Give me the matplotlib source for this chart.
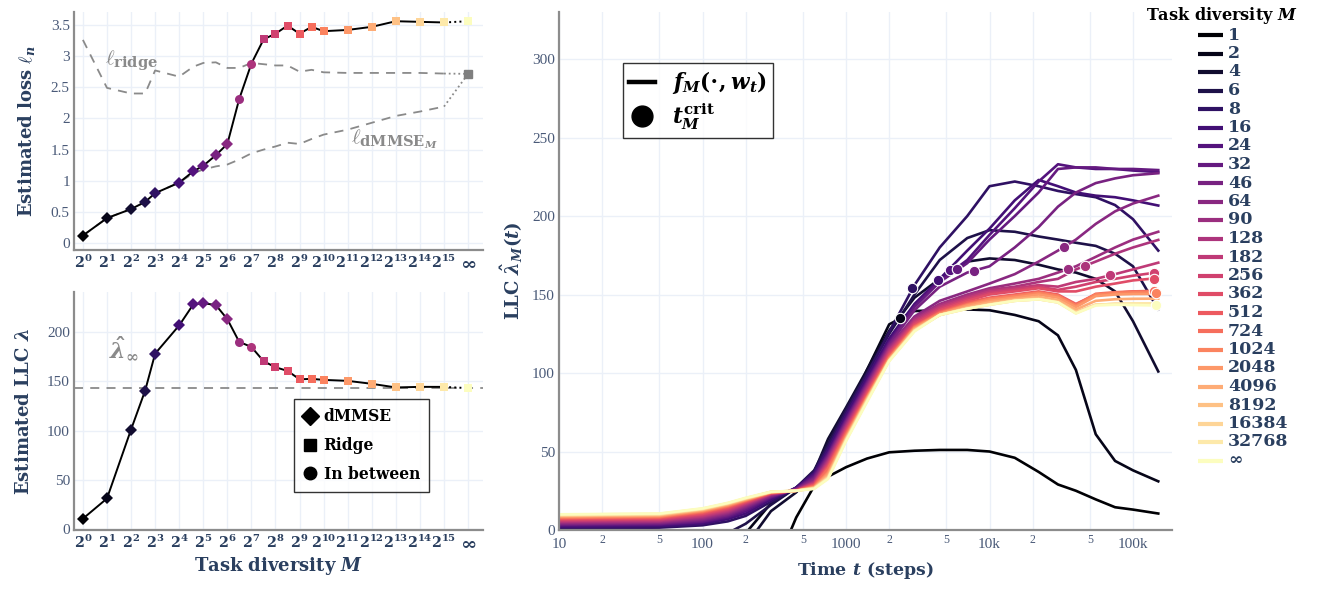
import numpy as np
import matplotlib
matplotlib.use("Agg")
import matplotlib.pyplot as plt
from matplotlib.lines import Line2D
from matplotlib import ticker

plt.rcParams['font.family'] = ['DejaVu Serif']
plt.rcParams['mathtext.fontset'] = 'custom'
plt.rcParams['mathtext.rm'] = 'DejaVu Serif:bold'
plt.rcParams['mathtext.it'] = 'DejaVu Serif:italic:bold'
plt.rcParams['mathtext.bf'] = 'DejaVu Serif:bold'

INK = '#2a3f5f'
TICK_INK = '#4a5a78'
GRID = '#ebf0f8'
SPINE = '#8c8c8c'
GREY = '#8a8a8a'
TICKFONT = 'Liberation Serif'

# task diversities (last entry is M = infinity)
M_finite = [1, 2, 4, 6, 8, 16, 24, 32, 46, 64, 90, 128, 182, 256, 362, 512, 724,
            1024, 2048, 4096, 8192, 16384, 32768]
M_labels = [str(m) for m in M_finite] + ['∞']
# which solution each model is closest to: D = dMMSE, o = in between, s = ridge
M_kind = ['D'] * 10 + ['o'] * 2 + ['s'] * 12

# estimated loss per model
loss = [0.12, 0.40, 0.545, 0.66, 0.80, 0.97, 1.15, 1.24, 1.41, 1.59, 2.31, 2.88,
        3.27, 3.36, 3.49, 3.36, 3.47, 3.40, 3.42, 3.47, 3.56, 3.55, 3.54, 3.56]
ridge_loss = [3.26, 2.49, 2.40, 2.40, 2.77, 2.67, 2.83, 2.89, 2.90, 2.81, 2.81, 2.89,
              2.87, 2.85, 2.85, 2.75, 2.78, 2.74, 2.73, 2.73, 2.73, 2.73, 2.72]
dmmse_loss = [0.12, 0.40, 0.545, 0.66, 0.80, 0.97, 1.12, 1.18, 1.23, 1.26, 1.34, 1.44,
              1.50, 1.55, 1.61, 1.59, 1.67, 1.74, 1.82, 1.93, 2.04, 2.11, 2.19]
ridge_loss_inf = 2.715

# estimated LLC per model
llc = [10.5, 31, 101, 140.5, 178, 206.7, 228, 229.3, 227.3, 213, 190, 184.8,
       170.3, 164.2, 160.5, 152, 152.4, 151.4, 150.4, 147.4, 143.7, 144.3, 144.3, 143]
llc_inf = 143.3

# LLC over training, sampled at these steps
steps = [10, 50, 100, 150, 200, 300, 450, 600, 750, 1000, 1400, 2000, 3000, 4500,
         7000, 10000, 15000, 22000, 30000, 40000, 55000, 75000, 100000, 150000]
llc_curves = [
    [-40, -40, -40, -40, -40, -30, 8, 28, 34, 40, 45.5, 49.5, 50.5, 51, 51, 50, 46, 37, 29, 25, 19.5, 14.5, 13, 10.5],
    [-40, -40, -40, -40, -2, 17, 27, 36, 48, 72, 102, 131, 139.5, 140, 140.5, 140, 137, 133, 124, 102, 61, 44, 38, 31],
    [-40, -40, -40, -40, -10, 12, 24, 37, 58, 78, 102, 127, 148, 160, 171, 173, 172, 169, 166, 164, 160, 152, 133, 101],
    [-8, -7, -5, -2, 4, 16, 27, 38, 55, 77, 100, 125, 150, 172, 186, 191, 190, 187, 185, 183, 181, 176, 168, 140.5],
    [1.2, 1.5, 3, 5.5, 9, 18, 27, 37, 53, 75, 99, 126, 156, 180, 200, 219, 222, 219, 216, 214, 212, 207, 198, 178],
    [2, 2.5, 4, 7, 10.5, 19.5, 27, 36, 51, 73, 97, 122, 144, 160, 178, 192, 210, 223, 219, 215, 213, 212, 210, 206.7],
    [2.8, 3.3, 5, 8, 12, 20.5, 26.5, 35, 49, 71, 95, 120, 143, 159, 172, 188, 205, 222, 233, 231, 230, 230, 229, 228],
    [3.3, 3.8, 5.5, 8.7, 13, 21, 26.3, 34, 48, 70, 94, 119, 142, 158, 170, 185, 200, 215, 230, 231, 231, 230, 230, 229.3],
    [3.8, 4.3, 6.3, 9.5, 14, 21.5, 26, 33, 47, 69, 93, 118, 140, 155, 164, 168, 180, 193, 206, 215, 221, 224, 226, 227.3],
    [4.3, 4.8, 7, 10.3, 14.8, 22, 25.8, 32, 46, 68, 92, 117, 136, 146, 152, 157, 163, 171, 178, 185, 195, 203, 208, 213],
    [4.8, 5.3, 7.7, 11, 15.5, 22.5, 25.6, 31, 45, 67, 91, 116, 135, 144, 150, 154, 157, 160, 164, 168, 174, 180, 185, 190],
    [5.3, 5.8, 8.4, 11.7, 16.2, 22.8, 25.4, 30.5, 44, 66, 90, 115, 134, 143, 149, 153, 155, 158, 160, 166, 171, 176, 180, 184.8],
    [5.8, 6.3, 9, 12.4, 16.8, 23, 25.3, 30, 43, 65, 89, 114, 133, 142, 148, 152, 154, 156, 155, 158, 160, 163, 166, 170.3],
    [6.3, 6.8, 9.7, 13.1, 17.3, 23.2, 25.2, 29.5, 42, 64, 88, 113, 132, 141, 147, 151, 153, 155, 153, 155, 158, 160, 162, 164.2],
    [6.8, 7.3, 10.3, 13.8, 17.8, 23.4, 25.1, 29, 41, 63, 87, 112, 131, 140, 146, 150, 152, 154, 152, 152, 155, 157, 159, 160.5],
    [7.3, 7.8, 11, 14.5, 18.3, 23.6, 25, 28.5, 40, 62, 86, 111, 130, 139, 145, 148, 150, 152, 150, 144, 150, 151, 152, 152],
    [7.7, 8.2, 11.5, 15, 18.7, 23.8, 25, 28, 39, 61, 85, 110, 129.5, 138.5, 144, 147.5, 149.5, 151.5, 149.5, 143.5, 150.5, 151.5, 152, 152.4],
    [8.1, 8.6, 12, 15.5, 19, 23.9, 25, 27.5, 37, 60, 84.5, 109.5, 129, 138, 143.5, 147, 149, 151, 149, 143, 150, 151, 151.3, 151.4],
    [8.5, 9, 12.4, 15.9, 19.3, 24, 25, 27.2, 36, 59, 84, 109, 128.5, 137.5, 143, 146, 148, 150, 148, 142, 149, 150, 150.3, 150.4],
    [8.9, 9.4, 12.8, 16.3, 19.6, 24.1, 25, 27, 35, 58.5, 83.5, 108.5, 128, 137, 142, 145, 147, 148.5, 146.5, 140.5, 146, 147, 147.3, 147.4],
    [9.2, 9.7, 13.1, 16.6, 19.9, 24.2, 25, 26.8, 34, 58, 83, 108, 127.5, 137, 141.5, 144, 146.5, 147.5, 145.5, 139, 143.5, 144, 143.8, 143.7],
    [9.5, 10, 13.4, 16.9, 20.1, 24.3, 25, 26.6, 33.5, 57.5, 82.5, 108, 127, 137, 141, 143.5, 146, 147, 145, 138.5, 143.5, 144, 144.2, 144.3],
    [9.8, 10.3, 13.6, 17.1, 20.3, 24.3, 25, 26.4, 33, 57, 82, 108, 127, 137, 141, 143.5, 146, 147, 145, 138, 143.5, 144, 144.3, 144.3],
    [10, 10.5, 13.8, 17.3, 20.5, 24.4, 25, 26.2, 32.5, 56.5, 81.5, 107.5, 126.5, 137, 141, 143.5, 146, 147, 145, 138, 143, 143.5, 143.3, 143],
]

# critical times t_M^crit and the LLC there
crit_M = ['2', '8', '16', '24', '32', '46', '64', '90', '128', '182', '256', '362', '724', '1024', '∞']
crit_t = [2370, 2900, 4400, 5300, 5900, 7800, 33000, 35500, 46000, 69000, 140000, 140000, 140000, 145000, 145000]
crit_llc = [135, 154, 159.5, 165.5, 166, 165.3, 180, 166, 168.5, 162.3, 163.7, 160.2, 152.2, 151.3, 143.1]

colors = plt.cm.magma(np.linspace(0, 1, len(M_labels)))
xpos = list(np.log2(M_finite)) + [16.0]

W, H = 1321, 590
fig = plt.figure(figsize=(W / 100, H / 100), dpi=100)


def px_axes(x0, y0, x1, y1):
    return fig.add_axes([x0 / W, 1 - y1 / H, (x1 - x0) / W, (y1 - y0) / H])


def style(ax):
    for s in ['top', 'right']:
        ax.spines[s].set_visible(False)
    for s in ['left', 'bottom']:
        ax.spines[s].set_color(SPINE)
        ax.spines[s].set_linewidth(1.6)
    ax.grid(True, color=GRID, lw=1.0)
    ax.set_axisbelow(True)
    ax.tick_params(length=0, colors=INK)


def task_axis(ax):
    ax.set_xlim(-0.37, 16.62)
    ax.set_xticks(range(17))
    ax.set_xticklabels([r'$2^{%d}$' % k for k in range(16)] + [r'$\infty$'],
                       fontsize=10.3, color=INK)
    ax.get_xticklabels()[-1].set_fontsize(14)
    ax.tick_params(axis='x', pad=3)
    ax.tick_params(axis='y', pad=3, labelcolor=TICK_INK)
    for lab in ax.get_yticklabels():
        lab.set_fontfamily(TICKFONT)
        lab.set_fontsize(11)


def draw_markers(ax, vals):
    for x, v, k, c in zip(xpos, vals, M_kind, colors):
        ms = 6.5 if k != 's' else 6.2
        ax.plot([x], [v], marker=k, color=c, ms=ms, mec=c, mew=0, ls='none', zorder=5)


# ---- top left: loss ----
ax1 = px_axes(74, 12, 483, 250)
style(ax1)
ax1.set_ylim(-0.112, 3.708)
ax1.set_yticks([0, 0.5, 1, 1.5, 2, 2.5, 3, 3.5])
ax1.set_yticklabels(['0', '0.5', '1', '1.5', '2', '2.5', '3', '3.5'])
task_axis(ax1)
dash = dict(color=GREY, lw=1.3, dashes=(5, 4))
ax1.plot(xpos[:-1], ridge_loss, **dash)
ax1.plot(xpos[:-1], dmmse_loss, **dash)
ax1.plot([xpos[-2], xpos[-1]], [ridge_loss[-1], ridge_loss_inf], color=GREY, lw=1.3, ls=':')
ax1.plot([xpos[-2], xpos[-1]], [dmmse_loss[-1], ridge_loss_inf], color=GREY, lw=1.3, ls=':')
ax1.plot([xpos[-1]], [ridge_loss_inf], marker='s', color='#7f7f7f', ms=6.2, zorder=5)
ax1.plot(xpos[:-1], loss[:-1], color='k', lw=1.4, zorder=4)
ax1.plot(xpos[-2:], loss[-2:], color='k', lw=1.4, ls=':', zorder=4)
draw_markers(ax1, loss)
ax1.text(2.0, 2.92, r'$\ell_{\mathrm{ridge}}$', color=GREY, fontsize=15, ha='center', va='center')
ax1.text(12.95, 1.66, r'$\ell_{\mathrm{dMMSE}_M}$', color=GREY, fontsize=15, ha='center', va='center')
ax1.set_ylabel(r'Estimated loss $\ell_n$', fontsize=13, fontweight='bold', color=INK, labelpad=10)

# ---- bottom left: LLC ----
ax2 = px_axes(74, 292, 483, 530)
style(ax2)
ax2.set_ylim(-1, 240.6)
ax2.set_yticks([0, 50, 100, 150, 200])
task_axis(ax2)
ax2.axhline(llc_inf, **dash)
ax2.plot(xpos[:-1], llc[:-1], color='k', lw=1.4, zorder=4)
ax2.plot(xpos[-2:], llc[-2:], color='k', lw=1.4, ls=':', zorder=4)
draw_markers(ax2, llc)
ax2.text(1.7, 183, r'$\hat{\lambda}_\infty$', color=GREY, fontsize=16, ha='center', va='center')
ax2.set_ylabel(r'Estimated LLC $\lambda$', fontsize=13, fontweight='bold', color=INK, labelpad=10)
ax2.set_xlabel(r'Task diversity $M$', fontsize=13, fontweight='bold', color=INK, labelpad=2)
kind_handles = [Line2D([], [], marker=m, color='k', ls='none', ms=9 if m != 's' else 8.5)
                for m in ['D', 's', 'o']]
leg2 = ax2.legend(kind_handles, ['dMMSE', 'Ridge', 'In between'], loc='upper left',
                  bbox_to_anchor=(0.538, 0.55), borderaxespad=0, frameon=True, fancybox=False,
                  edgecolor='k', handlelength=0.8, handletextpad=0.5,
                  labelspacing=0.75, borderpad=0.6, prop={'weight': 'bold', 'size': 11.2})
leg2.get_frame().set_linewidth(1.0)

# ---- right: LLC over training ----
ax3 = px_axes(559, 12, 1172, 530)
style(ax3)
ax3.set_xscale('log')
ax3.set_xlim(10, 10 ** (1 + 613 / 143.5))
ax3.set_ylim(0, 330)
for vals, c in zip(llc_curves, colors):
    ax3.plot(steps, vals, color=c, lw=1.9, solid_joinstyle='round')
for lab, t, v in zip(crit_M, crit_t, crit_llc):
    c = colors[M_labels.index(lab)]
    ax3.plot([t], [v], marker='o', ms=7.5, color=c, mec='white', mew=0.8, ls='none', zorder=6)

major = [10, 100, 1000, 1e4, 1e5]
minor = [m * d for d in [10, 100, 1000, 1e4, 1e5] for m in (2, 5)]
ax3.xaxis.set_major_locator(ticker.FixedLocator(major))
ax3.xaxis.set_major_formatter(ticker.FixedFormatter(['10', '100', '1000', '10k', '100k']))
ax3.xaxis.set_minor_locator(ticker.FixedLocator(minor))
ax3.xaxis.set_minor_formatter(ticker.FixedFormatter(['2', '5'] * 5))
ax3.set_yticks(range(0, 301, 50))
ax3.grid(True, which='both', color=GRID, lw=1.0)
ax3.tick_params(which='both', length=0)
ax3.tick_params(axis='x', which='major', pad=6, labelcolor=TICK_INK)
ax3.tick_params(axis='x', which='minor', pad=3, labelcolor=TICK_INK)
ax3.tick_params(axis='y', pad=3, labelcolor=TICK_INK)
for lab in ax3.get_xticklabels() + ax3.get_yticklabels():
    lab.set_fontfamily(TICKFONT)
    lab.set_fontsize(11)
for lab in ax3.get_xticklabels(minor=True):
    lab.set_fontfamily(TICKFONT)
    lab.set_fontsize(8.5)
ax3.set_xlabel(r'Time $t$ (steps)', fontsize=12.5, fontweight='bold', color=INK, labelpad=6)
ax3.set_ylabel(r'LLC $\hat{\lambda}_M(t)$', fontsize=13, fontweight='bold', color=INK, labelpad=5)

key_handles = [Line2D([], [], color='k', lw=3.2),
               Line2D([], [], marker='o', color='k', ls='none', ms=15)]
leg3 = ax3.legend(key_handles, [r'$f_M(\cdot, w_t)$', r'$t_M^{\mathrm{crit}}$'], loc='upper left',
                  bbox_to_anchor=(0.104, 0.902), borderaxespad=0, frameon=True, fancybox=False,
                  edgecolor='k', fontsize=15.5, handlelength=1.2, handletextpad=0.8,
                  labelspacing=0.25, borderpad=0.3)
leg3.get_frame().set_linewidth(1.0)

# ---- colour key for M ----
fig.text(1298 / W, 1 - 16 / H, r'Task diversity $M$', fontsize=11.6, fontweight='bold',
         color='k', ha='right', va='center')
for i, (lab, c) in enumerate(zip(M_labels, colors)):
    yy = 1 - (35 + i * 18.5) / H
    fig.add_artist(Line2D([1198 / W, 1223 / W], [yy, yy], transform=fig.transFigure,
                          color=c, lw=3.0, solid_capstyle='butt'))
    fig.text(1228 / W, yy, lab, fontsize=12.5, fontweight='bold', color=INK,
             ha='left', va='center')

fig.savefig('out.png', dpi=100)
